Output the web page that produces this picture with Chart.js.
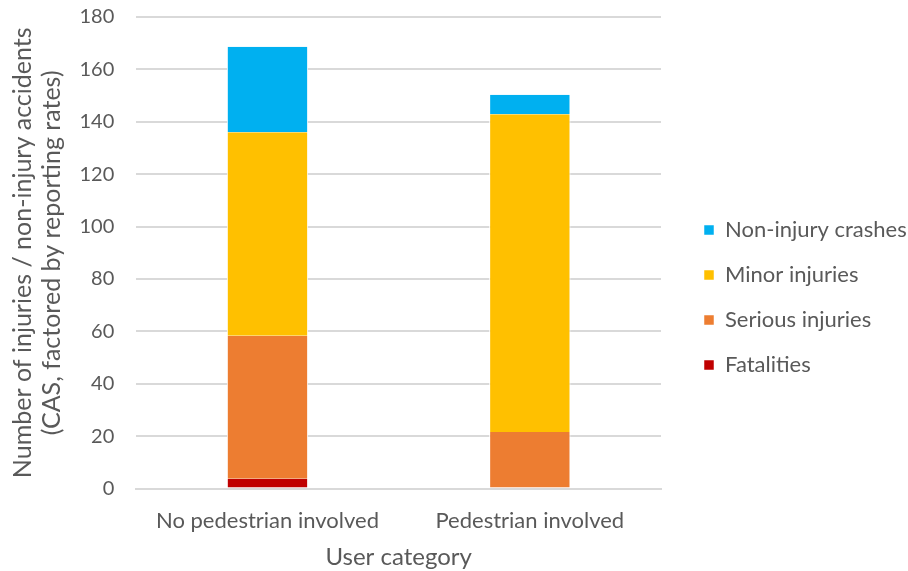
<!DOCTYPE html>
<html>
<head>
<meta charset="utf-8">
<script src="https://cdn.jsdelivr.net/npm/chart.js@4.4.1/dist/chart.umd.min.js"></script>
<style>
  body { margin: 0; background: #ffffff; }
  #wrap { width: 908px; height: 571px; }
</style>
</head>
<body>
<div id="wrap"><canvas id="chart"></canvas></div>
<script>
const categories = ['No pedestrian involved', 'Pedestrian involved'];
const fatalities = [3.8, 0];
const seriousInjuries = [54.5, 21.6];
const minorInjuries = [77.7, 121.3];
const nonInjuryCrashes = [32.6, 7.4];
const yTicks = [0, 20, 40, 60, 80, 100, 120, 140, 160, 180];

const textColor = '#595959';
const font = 'Lato, Carlito, Calibri, sans-serif';

function barSet(label, data, colour) {
    return {
        label: label,
        data: data,
        backgroundColor: colour,
        borderColor: '#ffffff',
        borderWidth: { left: 1, right: 1, top: 0, bottom: 0 },
        barPercentage: 0.31,
        categoryPercentage: 1.0
    };
}

const ctx = document.getElementById('chart').getContext('2d');
const chart = new Chart(ctx, {
    type: 'bar',
    data: {
        labels: categories,
        datasets: [
            barSet('Fatalities', fatalities, '#C00000'),
            barSet('Serious injuries', seriousInjuries, '#ED7D31'),
            barSet('Minor injuries', minorInjuries, '#FFC000'),
            barSet('Non-injury crashes', nonInjuryCrashes, '#00B0F0')
        ]
    },
    options: {
        responsive: true,
        maintainAspectRatio: false,
        animation: false,
        layout: { padding: { top: 0, right: 2, bottom: 0, left: 8 } },
        plugins: {
            tooltip: { enabled: false },
            legend: {
                position: 'right',
                reverse: true,
                maxWidth: 225,
                // empty title only pushes the legend items down a little
                title: { display: true, text: '', font: { size: 20, lineHeight: 1 }, padding: 2 },
                labels: {
                    boxWidth: 10,
                    boxHeight: 10,
                    padding: 23,
                    color: textColor,
                    font: { family: font, size: 22 }
                }
            }
        },
        scales: {
            x: {
                stacked: true,
                grid: { display: false },
                border: { display: true, color: '#d9d9d9', width: 2 },
                ticks: { color: textColor, font: { family: font, size: 22 }, padding: 11 },
                title: {
                    display: true,
                    text: 'User category',
                    color: textColor,
                    font: { family: font, size: 24, lineHeight: 1 },
                    padding: { top: 0, bottom: 2 }
                }
            },
            y: {
                stacked: true,
                min: 0,
                max: 180,
                afterBuildTicks: (axis) => { axis.ticks = yTicks.map(v => ({ value: v })); },
                grid: { color: '#d9d9d9', lineWidth: 2, drawTicks: true, tickLength: 15, tickColor: 'rgba(0,0,0,0)' },
                border: { display: false },
                ticks: { color: textColor, font: { family: font, size: 20, lineHeight: 1 }, padding: 7 },
                title: {
                    display: true,
                    text: ['Number of injuries / non-injury accidents', '(CAS, factored by reporting rates)'],
                    color: textColor,
                    font: { family: font, size: 25, lineHeight: 1.17 },
                    padding: { top: 0, bottom: 6 }
                }
            },
            // blank strip between the plot and the legend
            gap: {
                type: 'linear',
                position: 'right',
                display: true,
                grid: { display: false },
                border: { display: false },
                ticks: { display: false },
                afterFit: (scale) => { scale.width = 20; }
            }
        }
    }
});
</script>
</body>
</html>
